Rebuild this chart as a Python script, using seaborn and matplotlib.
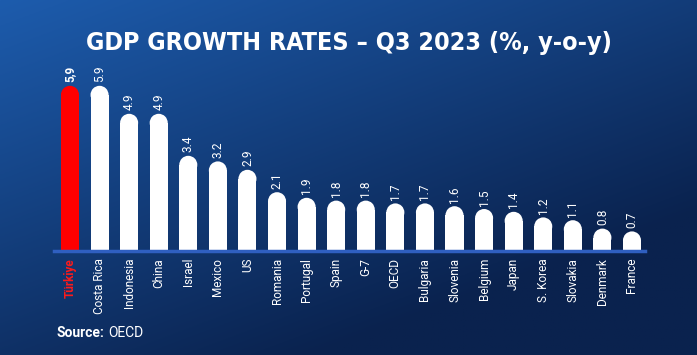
import numpy as np
import pandas as pd
import matplotlib
matplotlib.use("Agg")
import matplotlib.pyplot as plt
import seaborn as sns
from matplotlib.patches import Ellipse

# data
countries = ["Türkiye", "Costa Rica", "Indonesia", "China", "Israel", "Mexico", "US",
             "Romania", "Portugal", "Spain", "G-7", "OECD", "Bulgaria", "Slovenia",
             "Belgium", "Japan", "S. Korea", "Slovakia", "Denmark", "France"]
growth = [5.9, 5.9, 4.9, 4.9, 3.4, 3.2, 2.9, 2.1, 1.9, 1.8, 1.8, 1.7, 1.7, 1.6,
          1.5, 1.4, 1.2, 1.1, 0.8, 0.7]
value_labels = ["5,9"] + [f"{v:.1f}" for v in growth[1:]]
highlight = "Türkiye"

df = pd.DataFrame({"country": countries, "growth": growth})

W, H = 697, 355
fig = plt.figure(figsize=(W / 100, H / 100), dpi=100)

# gradient background
bg = fig.add_axes([0, 0, 1, 1], zorder=-10)
yy, xx = np.mgrid[0:1:200j, 0:1:400j]
t = np.clip(0.55 * xx + 0.75 * yy, 0, 1)
c0 = np.array([0x1d, 0x5c, 0xad]) / 255
c1 = np.array([0x0a, 0x22, 0x4e]) / 255
img = c0[None, None, :] * (1 - t[..., None]) + c1[None, None, :] * t[..., None]
bg.imshow(img, aspect="auto", extent=[0, 1, 0, 1], origin="upper")
bg.axis("off")

# plot area (pixel positions)
left, right, base, top = 54, 645, 251, 55
ax = fig.add_axes([left / W, 1 - base / H, (right - left) / W, (base - top) / H])
ax.patch.set_alpha(0)

colors = ["#ff0000" if c == highlight else "white" for c in countries]
bar_w = 0.61
sns.barplot(data=df, x="country", y="growth", hue="country", palette=colors,
            legend=False, width=bar_w, saturation=1, ax=ax)

ymax = 7.0
ax.set_ylim(0, ymax)
ax.set_xlim(-0.54, len(countries) - 1 + 0.44)

# rounded tops: cap radius = half bar width in pixels, converted to data units
px_per_unit = (base - top) / ymax
px_per_cat = (right - left) / (len(countries) - 1 + 0.98)
r_data = bar_w * px_per_cat / 2 / px_per_unit
for p, v, col in zip(ax.patches, growth, colors):
    x0, w = p.get_x(), p.get_width()
    p.set_height(v - r_data)
    p.set_edgecolor("none")
    ax.add_patch(Ellipse((x0 + w / 2, v - r_data), w, 2 * r_data,
                         facecolor=col, edgecolor="none"))

for i, v in enumerate(growth):
    ax.text(i, v + 0.12, value_labels[i], rotation=90, ha="center", va="bottom",
            color="white", fontsize=8.5, family="Roboto",
            fontweight="bold" if countries[i] == highlight else "normal")

for s in ["top", "right", "left"]:
    ax.spines[s].set_visible(False)
ax.spines["bottom"].set_color("#2f5fc0")
ax.spines["bottom"].set_linewidth(2.5)
ax.set_yticks([])
ax.set_xlabel("")
ax.set_ylabel("")
ax.tick_params(axis="x", length=0, pad=5)
ax.set_xticks(range(len(countries)))
ax.set_xticklabels(countries, rotation=90, color="white", fontsize=8.5, family="Roboto")
for lab in ax.get_xticklabels():
    if lab.get_text() == highlight:
        lab.set_color("#ff1a1a")
        lab.set_fontweight("bold")

fig.text(0.5, 1 - 43 / H, "GDP GROWTH RATES – Q3 2023 (%, y-o-y)", ha="center",
         va="center", color="white", fontsize=18, fontweight="bold",
         family="DejaVu Sans", fontstretch="condensed")

fig.text(57 / W, 1 - 333 / H, "Source:", ha="left", va="center", color="white",
         fontsize=10, fontweight="bold", family="Roboto")
fig.text(108 / W, 1 - 333 / H, "OECD", ha="left", va="center", color="white",
         fontsize=10, family="Roboto")

fig.savefig("out.png", dpi=100)
